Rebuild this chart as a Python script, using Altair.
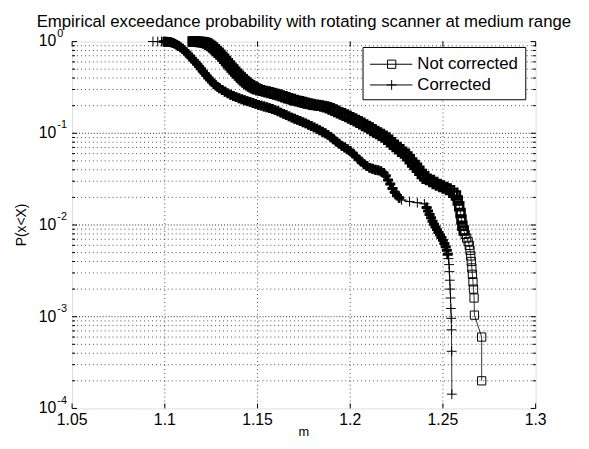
import altair as alt
import pandas as pd

# ---------------- data ----------------
nc_x = [1.1150, 1.1158, 1.1166, 1.1174, 1.1182, 1.1190, 1.1198, 1.1206, 1.1214, 1.1222,
        1.1230, 1.1240, 1.1250, 1.1260, 1.1270, 1.1280, 1.1290, 1.1300, 1.1310, 1.1320,
        1.1330, 1.1340, 1.1350, 1.1360, 1.1370, 1.1380, 1.1390, 1.1400, 1.1410, 1.1420,
        1.1430, 1.1440, 1.1450, 1.1460, 1.1470, 1.1480, 1.1490, 1.1500, 1.1515, 1.1530,
        1.1545, 1.1560, 1.1575, 1.1590, 1.1605, 1.1620, 1.1635, 1.1650, 1.1665, 1.1680,
        1.1695, 1.1710, 1.1725, 1.1740, 1.1755, 1.1770, 1.1785, 1.1800, 1.1815, 1.1830,
        1.1845, 1.1860, 1.1875, 1.1890, 1.1905, 1.1920, 1.1935, 1.1950, 1.1965, 1.1980,
        1.1995, 1.2010, 1.2025, 1.2040, 1.2055, 1.2070, 1.2085, 1.2100, 1.2115, 1.2130,
        1.2145, 1.2160, 1.2175, 1.2190, 1.2205, 1.2220, 1.2235, 1.2250, 1.2265, 1.2280,
        1.2295, 1.2308, 1.2321, 1.2334, 1.2347, 1.2360, 1.2373, 1.2386, 1.2399, 1.2412,
        1.2430, 1.2448, 1.2466, 1.2484, 1.2502, 1.2520, 1.2538, 1.2556, 1.2570, 1.2580,
        1.2588, 1.2595, 1.2600, 1.2605, 1.2612, 1.2620, 1.2628, 1.2636, 1.2642, 1.2646,
        1.2650, 1.2653, 1.2656, 1.2659, 1.2662, 1.2665, 1.2668, 1.2670, 1.2709, 1.2709]
nc_p = [1.0, 0.999, 0.998, 0.996, 0.994, 0.991, 0.987, 0.982, 0.975, 0.965,
        0.95, 0.925, 0.895, 0.86, 0.825, 0.79, 0.755, 0.72, 0.685, 0.65,
        0.615, 0.58, 0.55, 0.52, 0.495, 0.47, 0.447, 0.425, 0.405, 0.388,
        0.372, 0.358, 0.345, 0.334, 0.324, 0.315, 0.308, 0.302, 0.295, 0.29,
        0.285, 0.28, 0.275, 0.27, 0.265, 0.259, 0.253, 0.247, 0.241, 0.236,
        0.231, 0.227, 0.223, 0.219, 0.215, 0.211, 0.208, 0.205, 0.203, 0.201,
        0.199, 0.196, 0.192, 0.187, 0.182, 0.176, 0.17, 0.165, 0.16, 0.155,
        0.15, 0.145, 0.14, 0.135, 0.13, 0.125, 0.12, 0.116, 0.111, 0.106,
        0.102, 0.098, 0.094, 0.09, 0.085, 0.08, 0.075, 0.071, 0.067, 0.063,
        0.06, 0.056, 0.052, 0.048, 0.045, 0.042, 0.039, 0.036, 0.034, 0.032,
        0.031, 0.0295, 0.028, 0.027, 0.026, 0.025, 0.024, 0.0225, 0.021, 0.0185,
        0.016, 0.0135, 0.0115, 0.0098, 0.0087, 0.0079, 0.0072, 0.0066, 0.006, 0.0053,
        0.0046, 0.004, 0.0034, 0.0029, 0.0024, 0.002, 0.0016, 0.00104, 0.0006, 0.0002]

c_x = [1.0936, 1.0962, 1.0982, 1.0995, 1.1005, 1.1015, 1.1025, 1.1035, 1.1045, 1.1055,
       1.1065, 1.1075, 1.1085, 1.1095, 1.1105, 1.1115, 1.1125, 1.1135, 1.1145, 1.1155,
       1.1165, 1.1175, 1.1185, 1.1195, 1.1205, 1.1215, 1.1225, 1.1235, 1.1245, 1.1255,
       1.1265, 1.1275, 1.1285, 1.1295, 1.1310, 1.1325, 1.1340, 1.1355, 1.1370, 1.1385,
       1.1400, 1.1415, 1.1430, 1.1445, 1.1460, 1.1475, 1.1490, 1.1505, 1.1520, 1.1535,
       1.1550, 1.1565, 1.1580, 1.1595, 1.1610, 1.1625, 1.1640, 1.1655, 1.1670, 1.1685,
       1.1700, 1.1715, 1.1730, 1.1745, 1.1760, 1.1775, 1.1790, 1.1805, 1.1820, 1.1835,
       1.1850, 1.1865, 1.1880, 1.1895, 1.1910, 1.1925, 1.1940, 1.1955, 1.1970, 1.1985,
       1.2000, 1.2015, 1.2030, 1.2045, 1.2060, 1.2075, 1.2090, 1.2105, 1.2120, 1.2135,
       1.2150, 1.2165, 1.2180, 1.2192, 1.2204, 1.2216, 1.2228, 1.2240, 1.2252, 1.2264,
       1.2277, 1.2320, 1.2362, 1.2400, 1.2412, 1.2420, 1.2428, 1.2436, 1.2444, 1.2452,
       1.2460, 1.2468, 1.2476, 1.2484, 1.2492, 1.2500, 1.2508, 1.2515, 1.2521, 1.2526,
       1.2530, 1.2533, 1.2535, 1.2537, 1.2539, 1.2541, 1.2543, 1.2545, 1.2546, 1.2547,
       1.2548]
c_p = [1.0, 1.0, 0.999, 0.998, 0.996, 0.993, 0.988, 0.98, 0.965, 0.945,
       0.92, 0.895, 0.865, 0.835, 0.80, 0.765, 0.73, 0.695, 0.66, 0.625,
       0.595, 0.565, 0.535, 0.505, 0.475, 0.45, 0.425, 0.40, 0.38, 0.362,
       0.345, 0.332, 0.32, 0.31, 0.296, 0.284, 0.272, 0.263, 0.255, 0.248,
       0.241, 0.235, 0.229, 0.224, 0.219, 0.214, 0.209, 0.204, 0.2, 0.196,
       0.192, 0.188, 0.184, 0.179, 0.174, 0.168, 0.163, 0.158, 0.153, 0.148,
       0.144, 0.14, 0.136, 0.132, 0.128, 0.124, 0.12, 0.116, 0.112, 0.108,
       0.104, 0.1, 0.096, 0.091, 0.086, 0.081, 0.077, 0.073, 0.07, 0.067,
       0.064, 0.06, 0.056, 0.052, 0.049, 0.046, 0.044, 0.042, 0.041, 0.040,
       0.0395, 0.0385, 0.037, 0.0345, 0.031, 0.028, 0.025, 0.0228, 0.021, 0.0198,
       0.0188, 0.018, 0.0175, 0.017, 0.0155, 0.0142, 0.013, 0.012, 0.011, 0.0102,
       0.0095, 0.0089, 0.0083, 0.0078, 0.0073, 0.0068, 0.0063, 0.0058, 0.0053, 0.0048,
       0.0043, 0.0037, 0.0031, 0.0025, 0.002, 0.0016, 0.00123, 0.00096, 0.00072, 0.00042,
       0.000143]

series_names = ["Not corrected", "Corrected"]
title_text = "Empirical exceedance probability with rotating scanner at medium range"
x_title = "m"
y_title = "P(x<X)"

x_ticks = [1.05, 1.1, 1.15, 1.2, 1.25, 1.3]
x_tick_labels = ["1.05", "1.1", "1.15", "1.2", "1.25", "1.3"]
x_grid = [1.1, 1.15, 1.2, 1.25]
y_ticks = [1.0, 0.1, 0.01, 0.001, 0.0001]
y_tick_exp = ["0", "-1", "-2", "-3", "-4"]
y_major_grid = [0.1, 0.01, 0.001]
y_minor_grid = [m * d for d in [0.1, 0.01, 0.001, 0.0001] for m in range(2, 10)]

# ---------------- chart ----------------
W, H = 470, 372
FONT = "Liberation Sans"
xs = alt.Scale(domain=[1.05, 1.3], nice=False, zero=False)
ys = alt.Scale(type="log", domain=[1e-4, 1], nice=False)

nc = pd.DataFrame({"x": nc_x, "p": nc_p, "i": list(range(len(nc_x)))})
cc = pd.DataFrame({"x": c_x, "p": c_p, "i": list(range(len(c_x)))})
one = pd.DataFrame({"a": [0]})

X = alt.X("x:Q", scale=xs, axis=None)
Y = alt.Y("p:Q", scale=ys, axis=None)

dot = dict(color="black", strokeDash=[1, 3], strokeWidth=1, opacity=0.7)

vgrid = alt.Chart(pd.DataFrame({"x": x_grid})).mark_rule(**dot).encode(x=X)
hgrid_minor = alt.Chart(pd.DataFrame({"p": y_minor_grid})).mark_rule(**dot).encode(y=Y)
hgrid_major = alt.Chart(pd.DataFrame({"p": y_major_grid})).mark_rule(
    color="black", strokeDash=[1, 2], strokeWidth=1, opacity=0.85).encode(y=Y)

xt = pd.DataFrame({"x": x_ticks, "lab": x_tick_labels})
xtick_b = alt.Chart(xt).mark_rule(color="black").encode(x=X, y=alt.value(H), y2=alt.value(H - 5))
xtick_t = alt.Chart(xt).mark_rule(color="black").encode(x=X, y=alt.value(0), y2=alt.value(5))
xlab = alt.Chart(xt).mark_text(font=FONT, fontSize=16, baseline="alphabetic", color="black").encode(
    x=X, y=alt.value(H + 17), text="lab:N")

yt = pd.DataFrame({"p": y_ticks, "e": y_tick_exp, "b": ["10"] * len(y_ticks)})
ytick_l = alt.Chart(yt).mark_rule(color="black").encode(y=Y, x=alt.value(0), x2=alt.value(5))
ytick_r = alt.Chart(yt).mark_rule(color="black").encode(y=Y, x=alt.value(W), x2=alt.value(W - 5))
ym = pd.DataFrame({"p": y_minor_grid})
ymtick_l = alt.Chart(ym).mark_rule(color="black").encode(y=Y, x=alt.value(0), x2=alt.value(3))
ymtick_r = alt.Chart(ym).mark_rule(color="black").encode(y=Y, x=alt.value(W), x2=alt.value(W - 3))
ylab_base = alt.Chart(yt).mark_text(font=FONT, fontSize=16, align="right", baseline="middle",
                                    color="black").encode(y=Y, x=alt.value(-16), text="b:N")
ylab_exp = alt.Chart(yt).mark_text(font=FONT, fontSize=11, align="left", baseline="middle",
                                   color="black", dy=-8).encode(y=Y, x=alt.value(-15), text="e:N")

PLUS = "M-1,0H1M0,-1V1"
line_nc = alt.Chart(nc).mark_line(color="black", strokeWidth=0.8).encode(x=X, y=Y, order="i:Q")
line_c = alt.Chart(cc).mark_line(color="black", strokeWidth=0.8).encode(x=X, y=Y, order="i:Q")

# densely sampled stretches print as solid black bands, sparse tails as single markers
nc_dense = "datum.p > 0.008"
c_dense = "(datum.p > 0.0195 && datum.p < 0.9985) || (datum.p < 0.016 && datum.p > 0.0045)"

pts_nc_thin = alt.Chart(nc).mark_point(shape="square", size=70, filled=False, color="black",
                                       strokeWidth=1, opacity=1).encode(x=X, y=Y)
pts_nc_thick = alt.Chart(nc).transform_filter(nc_dense).mark_point(
    shape="square", size=64, filled=False, color="black", strokeWidth=2.6, opacity=1).encode(x=X, y=Y)
pts_c_thin = alt.Chart(cc).mark_point(shape=PLUS, size=100, filled=False, color="black",
                                      strokeWidth=1, opacity=1).encode(x=X, y=Y)
pts_c_thick = alt.Chart(cc).transform_filter(c_dense).mark_point(
    shape=PLUS, size=100, filled=False, color="black", strokeWidth=3, opacity=1).encode(x=X, y=Y)

# legend (drawn by hand, MATLAB style)
leg_box = alt.Chart(one).mark_rect(fill="white", stroke="black", strokeWidth=1).encode(
    x=alt.value(295), x2=alt.value(460), y=alt.value(6), y2=alt.value(59))
leg_l1 = alt.Chart(one).mark_rule(color="black").encode(x=alt.value(302), x2=alt.value(345), y=alt.value(23))
leg_l2 = alt.Chart(one).mark_rule(color="black").encode(x=alt.value(302), x2=alt.value(345), y=alt.value(44))
leg_m1 = alt.Chart(one).mark_point(shape="square", size=70, filled=False, color="black", opacity=1,
                                   strokeWidth=1).encode(x=alt.value(324), y=alt.value(23))
leg_m2 = alt.Chart(one).mark_point(shape=PLUS, size=100, filled=False, color="black", opacity=1,
                                   strokeWidth=1).encode(x=alt.value(324), y=alt.value(44))
leg_t1 = alt.Chart(one).mark_text(font=FONT, fontSize=17, align="left", baseline="middle", color="black").encode(
    x=alt.value(350), y=alt.value(23), text=alt.value(series_names[0]))
leg_t2 = alt.Chart(one).mark_text(font=FONT, fontSize=17, align="left", baseline="middle", color="black").encode(
    x=alt.value(350), y=alt.value(44), text=alt.value(series_names[1]))

title = alt.Chart(one).mark_text(font=FONT, fontSize=17, align="center", baseline="alphabetic", color="black").encode(
    x=alt.value(W / 2), y=alt.value(-15), text=alt.value(title_text))
xtitle = alt.Chart(one).mark_text(font=FONT, fontSize=13, align="center", baseline="alphabetic", color="black").encode(
    x=alt.value(W / 2), y=alt.value(H + 28), text=alt.value(x_title))
ytitle = alt.Chart(one).mark_text(font=FONT, fontSize=14, align="center", baseline="middle", angle=270,
                                  color="black").encode(x=alt.value(-51), y=alt.value(H / 2), text=alt.value(y_title))

chart = alt.layer(
    vgrid, hgrid_minor, hgrid_major,
    xtick_b, xtick_t, ytick_l, ytick_r, ymtick_l, ymtick_r,
    line_nc, line_c, pts_nc_thin, pts_nc_thick, pts_c_thin, pts_c_thick,
    leg_box, leg_l1, leg_l2, leg_m1, leg_m2, leg_t1, leg_t2,
    xlab, ylab_base, ylab_exp, title, xtitle, ytitle,
).properties(
    width=W, height=H, autosize="none",
    padding={"left": 65, "top": 31, "right": 46, "bottom": 30},
).configure_view(stroke="black", strokeWidth=1).configure(background="white")

chart.save("out.html", embed_options={"renderer": "svg", "actions": False})
